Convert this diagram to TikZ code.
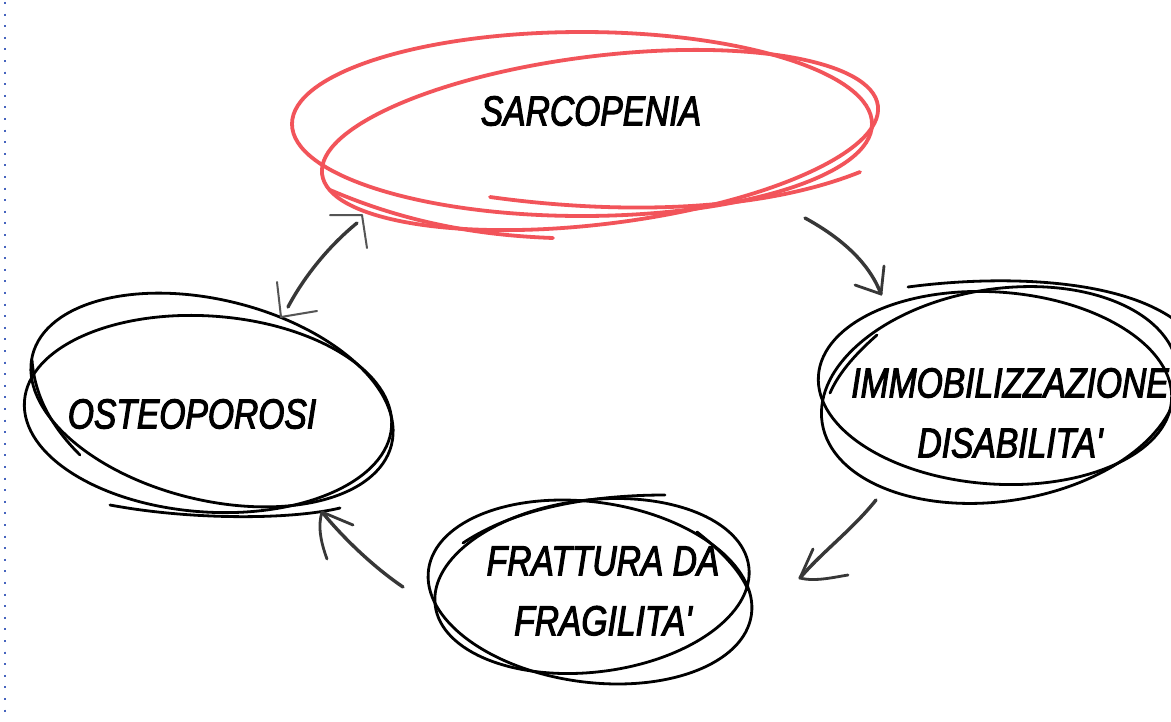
\documentclass[tikz,border=0pt]{standalone}
\usepackage{fontspec}
\newfontfamily\handfont[FakeStretch=0.8,FakeBold=2.5]{Liberation Sans}
\definecolor{redline}{RGB}{242,84,90}
\definecolor{arrowgray}{RGB}{55,55,55}
\definecolor{barbgray}{RGB}{85,85,85}
\definecolor{dotblue}{RGB}{70,100,190}
\tikzset{
  scrib/.style={draw=black, line width=2.8pt, line cap=round, line join=round},
  redscrib/.style={draw=redline, line width=3.8pt, line cap=round, line join=round},
  shaft/.style={draw=arrowgray, line width=3.4pt, line cap=round},
  barb/.style={draw=arrowgray, line width=2.8pt, line cap=round, line join=round},
  thinbarb/.style={draw=barbgray, line width=2pt, line cap=round, line join=round},
  label/.style={font={\handfont\itshape\fontsize{42}{60}\selectfont}, align=center, inner sep=0pt, text=black},
}
\begin{document}
\begin{tikzpicture}[x=1pt,y=-1pt]
\useasboundingbox[fill=white] (0,0) rectangle (1171,721);
% blue dotted margin line
\draw[dotblue, line width=2pt, dash pattern=on 2pt off 9.6pt] (5,2) -- (5,721);

% ---------- SARCOPENIA (red scribble) ----------
\draw[redscrib] (582,124) ellipse [x radius=290pt, y radius=92pt];
\draw[redscrib, rotate around={7:(600,140)}] (600,140) ellipse [x radius=280pt, y radius=84pt];
\draw[redscrib] (490,197) .. controls (620,215) and (760,212) .. (860,172);
\draw[redscrib] (330,190) .. controls (400,220) and (470,235) .. (553,238);
\node[label] (sarc) at (591,111) {SARCOPENIA};

% ---------- OSTEOPOROSI ----------
\draw[scrib, rotate around={-14:(212,400)}] (212,400) ellipse [x radius=185pt, y radius=100pt];
\draw[scrib, rotate around={-4:(208,414)}] (208,414) ellipse [x radius=184pt, y radius=98pt];
\draw[scrib] (80,455) .. controls (55,430) and (35,400) .. (32,360);
\draw[scrib] (110,505) .. controls (190,520) and (290,520) .. (340,508);
\node[label] (osteo) at (192,414) {OSTEOPOROSI};

% ---------- IMMOBILIZZAZIONE / DISABILITA' ----------
\draw[scrib, rotate around={-4:(995,388)}] (995,388) ellipse [x radius=177pt, y radius=96pt];
\draw[scrib, rotate around={9:(1000,395)}] (1000,395) ellipse [x radius=180pt, y radius=106pt];
\draw[scrib] (908,287) .. controls (990,276) and (1110,276) .. (1172,318);
\draw[scrib] (877,335) .. controls (860,350) and (840,370) .. (830,393);
\node[label] (immob) at (1010,413) {IMMOBILIZZAZIONE\\DISABILITA'};

% ---------- FRATTURA DA FRAGILITA' ----------
\draw[scrib, rotate around={-8:(590,592)}] (590,592) ellipse [x radius=163pt, y radius=90pt];
\draw[scrib, rotate around={7:(592,586)}] (592,586) ellipse [x radius=158pt, y radius=86pt];
\draw[scrib] (665,495) .. controls (600,495) and (520,505) .. (463,543);
\draw[scrib] (697,532) .. controls (720,550) and (740,570) .. (748,590);
\node[label] (frat) at (603,591) {FRATTURA DA\\FRAGILITA'};

% ---------- arrows ----------
% sarcopenia -> immobilizzazione
\coordinate (a1s) at (805,218);
\coordinate (a1t) at (881,294);
\draw[shaft] (a1s) .. controls (845,240) and (870,265) .. (a1t);
\draw[barb] (855,285) -- (a1t) -- (884,266);

% immobilizzazione -> frattura
\coordinate (a2s) at (876,500);
\coordinate (a2t) at (800,578);
\draw[shaft] (a2s) .. controls (852,530) and (822,552) .. (a2t);
\draw[barb] (813,549) -- (a2t) .. controls (815,582) and (835,577) .. (848,575);

% frattura -> osteoporosi
\coordinate (a3s) at (403,587);
\coordinate (a3t) at (322,512);
\draw[shaft] (a3s) .. controls (375,568) and (345,540) .. (a3t);
\draw[barb] (327,559) .. controls (320,540) and (318,525) .. (a3t) -- (353,525);

% osteoporosi <-> sarcopenia
\coordinate (a4b) at (288,307);
\coordinate (a4t) at (357,223);
\draw[shaft] (a4b) .. controls (305,275) and (330,245) .. (a4t);
\draw[thinbarb] (330,215) -- (362,215) -- (367,248);
\draw[thinbarb] (277,282) -- (281,317) -- (317,311);
\end{tikzpicture}
\end{document}
